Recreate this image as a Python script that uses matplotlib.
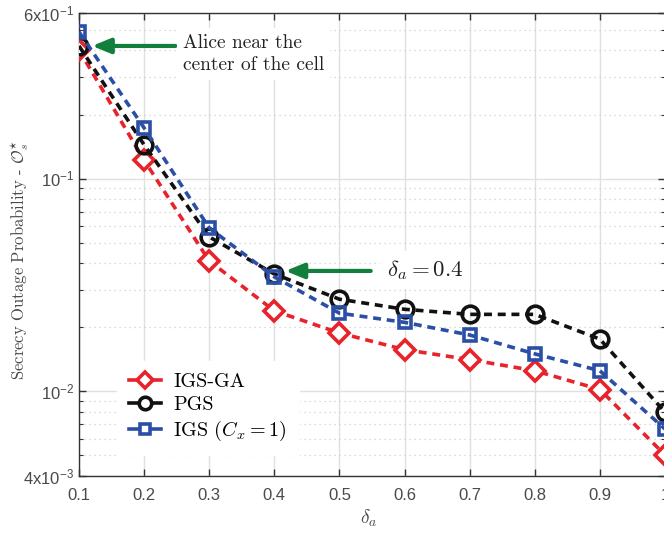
import matplotlib
matplotlib.use("Agg")
import matplotlib.pyplot as plt
from matplotlib.ticker import LogLocator, NullFormatter
from matplotlib.lines import Line2D

plt.rcParams['mathtext.fontset'] = 'cm'
plt.rcParams['mathtext.rm'] = 'Liberation Sans'
plt.rcParams['mathtext.it'] = 'Liberation Sans:italic'
plt.rcParams['mathtext.bf'] = 'Liberation Sans:bold'

delta_a = [0.1, 0.2, 0.3, 0.4, 0.5, 0.6, 0.7, 0.8, 0.9, 1.0]
igs_ga = [0.402, 0.122, 0.041, 0.0239, 0.0188, 0.0157, 0.0141, 0.0125, 0.0102, 0.00502]
pgs = [0.420, 0.144, 0.0532, 0.0356, 0.0271, 0.0243, 0.0230, 0.0230, 0.0176, 0.00798]
igs = [0.489, 0.173, 0.0586, 0.0345, 0.0233, 0.0211, 0.0184, 0.0150, 0.0125, 0.00665]
labels = ['IGS-GA', 'PGS', r'IGS ($C_x=1$)']

xticks = [0.1, 0.2, 0.3, 0.4, 0.5, 0.6, 0.7, 0.8, 0.9, 1.0]
xticklabels = ['0.1', '0.2', '0.3', '0.4', '0.5', '0.6', '0.7', '0.8', '0.9', '1']
yticks = [0.004, 0.01, 0.1, 0.6]
yticklabels = [r'$4\mathrm{x}10^{-3}$', r'$10^{-2}$', r'$10^{-1}$', r'$6\mathrm{x}10^{-1}$']

fig = plt.figure(figsize=(6.64, 5.34), dpi=100)
ax = fig.add_axes([79/664, 58/534, 586/664, 463/534])

red = '#e8232b'
blue = '#2b4fa6'
black = '#111111'
green = '#12803c'

lw = 2.6
dash = (0, (2.2, 1.6))
ax.plot(delta_a, igs_ga, linestyle=dash, color=red, lw=lw, marker='D',
        markersize=10.5, markerfacecolor='white', markeredgewidth=2.6, zorder=3)
ax.plot(delta_a, pgs, linestyle=dash, color=black, lw=lw, marker='o',
        markersize=12, markerfacecolor='none', markeredgewidth=2.6, zorder=4)
ax.plot(delta_a, igs, linestyle=dash, color=blue, lw=lw, marker='s',
        markersize=9, markerfacecolor='none', markeredgewidth=2.6, zorder=5)

ax.set_yscale('log')
ax.set_xlim(0.1, 1.0)
ax.set_ylim(0.004, 0.6)
ax.set_xticks(xticks)
ax.set_xticklabels(xticklabels, family='Liberation Sans', fontsize=12, color='#4a4a4a')
ax.set_yticks(yticks)
ax.set_yticklabels(yticklabels, fontsize=12, color='#4a4a4a', math_fontfamily='custom')
ax.yaxis.set_minor_locator(LogLocator(base=10, subs=[2, 3, 4, 5, 6, 7, 8, 9], numticks=20))
ax.yaxis.set_minor_formatter(NullFormatter())

ax.grid(True, which='major', axis='x', color='#e0e0e0', lw=1.0, linestyle='-')
ax.grid(True, which='major', axis='y', color='#e0e0e0', lw=1.0, linestyle='-')
ax.grid(True, which='minor', axis='y', color='#cfcfcf', lw=0.9, linestyle=(0, (1, 3)))
ax.set_axisbelow(True)

ax.tick_params(which='both', direction='in', top=True, right=True, color='#333333')
ax.tick_params(which='major', length=5, width=1)
ax.tick_params(which='minor', length=3, width=0.8)
ax.tick_params(axis='x', which='major', pad=9)
for s in ax.spines.values():
    s.set_color('#333333')
    s.set_linewidth(1.0)

ax.set_xlabel(r'$\delta_a$', fontsize=14, color='#4a4a4a')
ax.xaxis.set_label_coords(0.495, -0.068)
ax.set_ylabel(r'Secrecy Outage Probability - $\mathcal{O}_s^{\star}$', family='cmr10',
              fontsize=12, color='#4a4a4a', va='center')
ax.yaxis.set_label_coords(-0.101, 0.466)

# annotations
arrow_kw = dict(arrowstyle='-|>,head_length=1.1,head_width=0.45', color=green, lw=3,
                shrinkA=0, shrinkB=0)
ax.annotate('', xy=(0.12, 0.42), xytext=(0.248, 0.42), arrowprops=arrow_kw)
ax.text(0.26, 0.385, 'Alice near the\ncenter of the cell', fontsize=14, family='cmr10',
        color='#222222', va='center', ha='left', linespacing=1.3,
        bbox=dict(boxstyle='square,pad=0.3', fc='white', ec='none'))
ax.annotate('', xy=(0.417, 0.0368), xytext=(0.548, 0.0368), arrowprops=arrow_kw)
ax.text(0.573, 0.0371, r'$\delta_a = 0.4$', fontsize=16.5, color='#222222', va='center', ha='left',
        bbox=dict(boxstyle='square,pad=0.3', fc='white', ec='none'))

handles = [
    Line2D([], [], color=red, lw=lw, marker='D', ms=8, mfc='white', mew=2.6),
    Line2D([], [], color=black, lw=lw, marker='o', ms=9, mfc='white', mew=2.6),
    Line2D([], [], color=blue, lw=lw, marker='s', ms=7, mfc='white', mew=2.6),
]
leg = ax.legend(handles, labels, loc='lower left', bbox_to_anchor=(0.058, 0.036), frameon=True,
                prop={'family': 'cmr10', 'size': 14.5}, handlelength=1.6, handletextpad=0.6,
                labelspacing=0.25, borderpad=0.3)
leg.get_frame().set_edgecolor('white')
leg.get_frame().set_facecolor('white')
leg.get_frame().set_alpha(1.0)
leg.get_frame().set_boxstyle('square')

fig.savefig('out.png', dpi=100)
